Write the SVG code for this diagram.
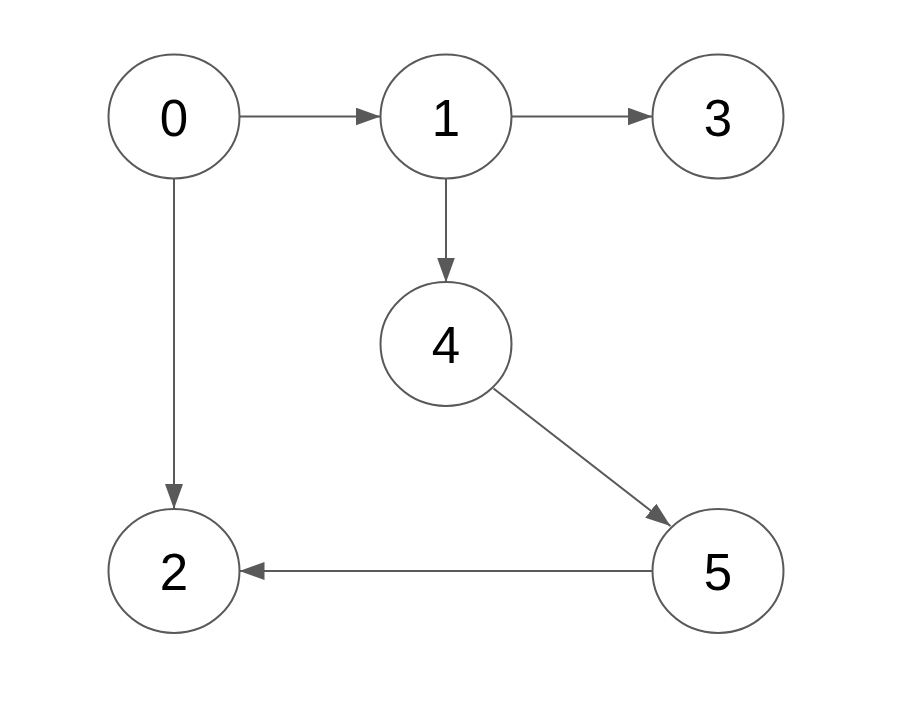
<svg xmlns="http://www.w3.org/2000/svg" width="916" height="708" viewBox="0 0 916 708">
<style>
.node ellipse{fill:#fff;stroke:#595959;stroke-width:2}
.node text{font-family:"Liberation Sans",Arial,sans-serif;font-size:51px;fill:#000;text-anchor:middle}
.edge{stroke:#595959;stroke-width:2;fill:none;marker-end:url(#arr)}
</style>
<defs>
<marker id="arr" markerUnits="userSpaceOnUse" markerWidth="26" markerHeight="19" refX="25" refY="9" orient="auto">
<path d="M0,0 L25,9 L0,18 z" fill="#595959"/>
</marker>
</defs>
<rect width="916" height="708" fill="#fff"/>
<g id="connectors">
<line class="edge" x1="239.5" y1="116.5" x2="380.5" y2="116.5"/>
<line class="edge" x1="511.5" y1="116.5" x2="652.5" y2="116.5"/>
<line class="edge" x1="174" y1="178.5" x2="174" y2="509"/>
<line class="edge" x1="446" y1="178.5" x2="446" y2="282.5"/>
<line class="edge" x1="493.5" y1="388.5" x2="670.5" y2="526"/>
<line class="edge" x1="652.5" y1="571" x2="239.5" y2="571"/>
</g>
<g id="node0" class="node"><ellipse cx="174" cy="116.5" rx="65.5" ry="62"/><text x="174" y="135.5">0</text></g>
<g id="node1" class="node"><ellipse cx="446" cy="116.5" rx="65.5" ry="62"/><text x="446" y="135.5">1</text></g>
<g id="node3" class="node"><ellipse cx="718" cy="116.5" rx="65.5" ry="62"/><text x="718" y="135.5">3</text></g>
<g id="node4" class="node"><ellipse cx="446" cy="344" rx="65.5" ry="62"/><text x="446" y="363">4</text></g>
<g id="node2" class="node"><ellipse cx="174" cy="571" rx="65.5" ry="62"/><text x="174" y="590">2</text></g>
<g id="node5" class="node"><ellipse cx="718" cy="571" rx="65.5" ry="62"/><text x="718" y="590">5</text></g>
</svg>
